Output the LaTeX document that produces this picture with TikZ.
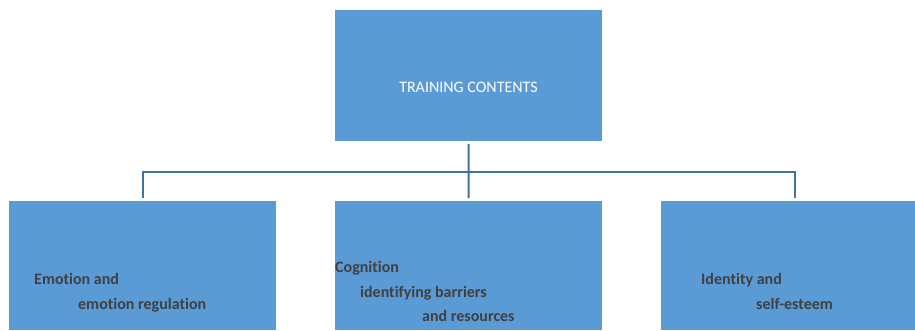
\documentclass[tikz,border=0pt]{standalone}
\usepackage{fontspec}
\setmainfont[Ligatures=NoCommon]{Carlito}
\usepackage{xcolor}
\usepackage{tikz}
\usetikzlibrary{positioning}

\definecolor{boxblue}{HTML}{5B9BD5}
\definecolor{lineblue}{HTML}{41719C}
\definecolor{labelgray}{HTML}{404040}

\begin{document}
\begin{tikzpicture}[
        x=1pt, y=-1pt,
        topic/.style={rectangle, fill=boxblue, draw=none, anchor=north west,
            minimum width=267pt, minimum height=131pt, inner sep=0pt},
        label/.style={anchor=base west, inner sep=0pt, font=\fontsize{16}{19}\selectfont\bfseries, text=labelgray},
        link/.style={draw=lineblue, line width=2pt}
    ]
    \useasboundingbox (0,0) rectangle (915,330);

    % boxes
    \node[topic] (top) at (335,10) {};
    \node[topic, minimum height=129pt] (left) at (9,201) {};
    \node[topic, minimum height=129pt] (mid) at (335,201) {};
    \node[topic, minimum height=129pt] (right) at (661,201) {};

    % texts
    \node[anchor=base, inner sep=0pt, text=white, font=\fontsize{16}{19}\selectfont] (title) at (468.5,92) {TRAINING CONTENTS};
    \node[label] (emoA) at (34,284) {Emotion and};
    \node[label] (emoB) at (78,309) {emotion regulation};
    \node[label] (cogA) at (335,272) {Cognition};
    \node[label] (cogB) at (360,297) {identifying barriers};
    \node[label] (cogC) at (422,321) {and resources};
    \node[label] (idA) at (701,284) {Identity and};
    \node[label] (idB) at (756,309) {self-esteem};

    % connectors
    \coordinate (hub) at (468.5,172);
    \draw[link, shorten <=2.5pt] (top.south) -- (hub);
    \draw[link, shorten <=3pt, shorten >=3pt] (left.north) |- (hub) -| (right.north);
    \draw[link, shorten >=3pt] (hub) -- (mid.north);

\end{tikzpicture}
\end{document}
